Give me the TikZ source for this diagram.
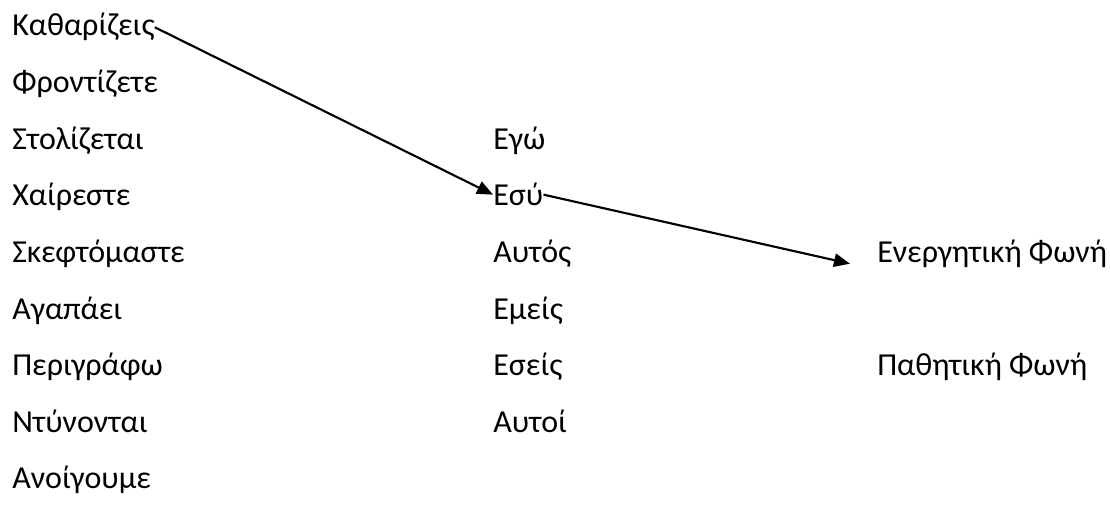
\documentclass[tikz,border=0pt]{standalone}
\usepackage{fontspec}
\setmainfont{Carlito}
\usetikzlibrary{arrows.meta}

\begin{document}
\begin{tikzpicture}[x=0.75pt, y=-0.75pt,
    word/.style={anchor=base west, inner sep=0pt, font=\fontsize{24}{28}\selectfont},
    link/.style={line width=1.6pt, -{Triangle[length=12pt, width=10pt]}}]
    \useasboundingbox (0,0) rectangle (1110,510);

    % left column
    \node[word] (v1) at (12,36) {Καθαρίζεις};
    \node[word] (v2) at (12,92.6) {Φροντίζετε};
    \node[word] (v3) at (12,149.2) {Στολίζεται};
    \node[word] (v4) at (12,205.8) {Χαίρεστε};
    \node[word] (v5) at (12,262.4) {Σκεφτόμαστε};
    \node[word] (v6) at (12,319) {Αγαπάει};
    \node[word] (v7) at (12,375.6) {Περιγράφω};
    \node[word] (v8) at (12,432.2) {Ντύνονται};
    \node[word] (v9) at (12,488.8) {Ανοίγουμε};

    % middle column
    \node[word] (p1) at (493,149.2) {Εγώ};
    \node[word] (p2) at (493,205.8) {Εσύ};
    \node[word] (p3) at (493,262.4) {Αυτός};
    \node[word] (p4) at (493,319) {Εμείς};
    \node[word] (p5) at (493,375.6) {Εσείς};
    \node[word] (p6) at (493,432.2) {Αυτοί};

    % right column
    \node[word] (f1) at (877,262.4) {Ενεργητική Φωνή};
    \node[word] (f2) at (877,375.6) {Παθητική Φωνή};

    \draw[link] (v1.east) -- (p2.west);
    \draw[link] (p2.east) -- ([shift={(-27,10)}]f1.west);
\end{tikzpicture}
\end{document}
